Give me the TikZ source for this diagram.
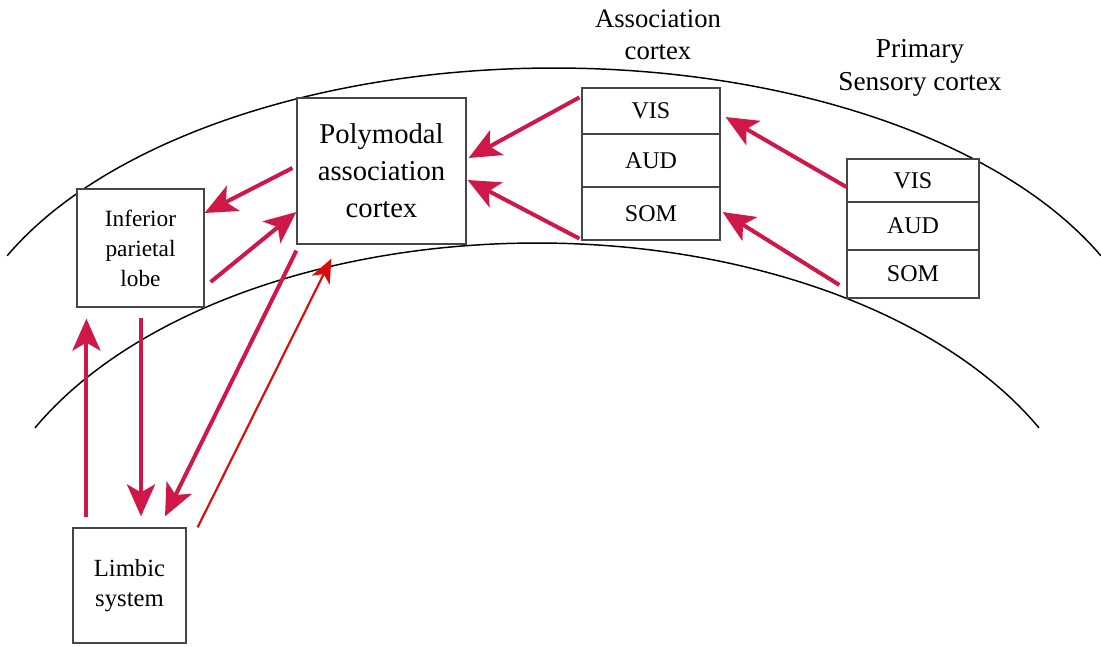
\documentclass[tikz,border=0pt]{standalone}
\usepackage{fontspec}
\setmainfont{Liberation Serif}
\usetikzlibrary{arrows.meta,calc}
\definecolor{crim}{RGB}{208,24,72}
\definecolor{rline}{RGB}{222,10,10}
\definecolor{boxc}{RGB}{70,70,70}
\tikzset{
  box/.style={draw=boxc, line width=0.9pt, fill=white, inner sep=0pt, align=center},
  cell/.style={box, minimum width={138*0.75pt}, font=\fontsize{18}{20}\selectfont},
  pcell/.style={box, minimum width={132*0.75pt}, font=\fontsize{18}{20}\selectfont},
  bigarrow/.style={draw=crim, line width=3pt, -{Stealth[length=24pt,width=21pt,inset=6pt]}},
  thinarrow/.style={draw=rline, line width=1.6pt, -{Stealth[length=18pt,width=15pt,inset=5pt]}},
  arcline/.style={draw=black, line width=1.1pt},
  lbl/.style={align=center, inner sep=0pt}
}
\begin{document}
\begin{tikzpicture}[x=0.75pt, y=-0.75pt]
\useasboundingbox (0,0) rectangle (1101,647);
% cortex boundaries
\draw[arcline] plot[domain=155.7:24.3, samples=150] ({554+600*cos(\x)},{387-319*sin(\x)});
\draw[arcline] plot[domain=153.7:26.3, samples=150] ({537+560*cos(\x)},{575-332*sin(\x)});
% boxes
\node[box, minimum width={169*0.75pt}, minimum height={146*0.75pt}, font=\fontsize{21.5}{27.75}\selectfont] (poly) at (381.5,171) {Polymodal\\association\\cortex};
\node[box, minimum width={127*0.75pt}, minimum height={118*0.75pt}, font=\fontsize{17.5}{22.5}\selectfont] (lobe) at (140.5,248) {Inferior\\parietal\\lobe};
\node[box, minimum width={113*0.75pt}, minimum height={115*0.75pt}, font=\fontsize{18.5}{22.5}\selectfont] (limbic) at (129.5,585.5) {Limbic\\system};
\node[cell, minimum height={46*0.75pt}] (aVIS) at (651,111) {VIS};
\node[cell, minimum height={53*0.75pt}] (aAUD) at (651,160.5) {AUD};
\node[cell, minimum height={53*0.75pt}] (aSOM) at (651,213.5) {SOM};
\node[pcell, minimum height={43*0.75pt}] (pVIS) at (913,180.5) {VIS};
\node[pcell, minimum height={48*0.75pt}] (pAUD) at (913,226) {AUD};
\node[pcell, minimum height={48*0.75pt}] (pSOM) at (913,274) {SOM};
% labels
\node[lbl, font=\fontsize{20}{24}\selectfont] (assoclbl) at (658,35) {Association\\cortex};
\node[lbl, font=\fontsize{20.5}{25}\selectfont] (primlbl) at (920,68) {Primary\\Sensory cortex};
% arrows
\draw[bigarrow] ($(aVIS.north west)+(-2,10)$) -- ($(poly.east)+(2,-13)$);
\draw[bigarrow] ($(aSOM.south west)+(-2,-2)$) -- ($(poly.east)+(1,9)$);
\draw[bigarrow] ($(pVIS.west)+(0,6.5)$) -- ($(aVIS.east)+(5,6)$);
\draw[bigarrow] ($(pSOM.west)+(-7,11)$) -- ($(aSOM.east)+(2,-1.5)$);
\draw[bigarrow] ($(poly.west)+(-4,-3)$) -- ($(lobe.east)+(0,-35)$);
\draw[bigarrow] ($(lobe.east)+(6,34)$) -- ($(poly.west)+(0,41)$);
\draw[bigarrow] ($(poly.south west)+(0,6)$) -- ($(limbic.north)+(35.5,-11)$);
\draw[thinarrow] ($(limbic.north east)+(11,0)$) -- ($(poly.south west)+(35,14)$);
\draw[bigarrow] ($(limbic.north west)+(14,-10)$) -- ($(lobe.south west)+(10,11)$);
\draw[bigarrow] ($(lobe.south)+(0.5,10)$) -- ($(limbic.north)+(11.5,-11)$);
\end{tikzpicture}
\end{document}
